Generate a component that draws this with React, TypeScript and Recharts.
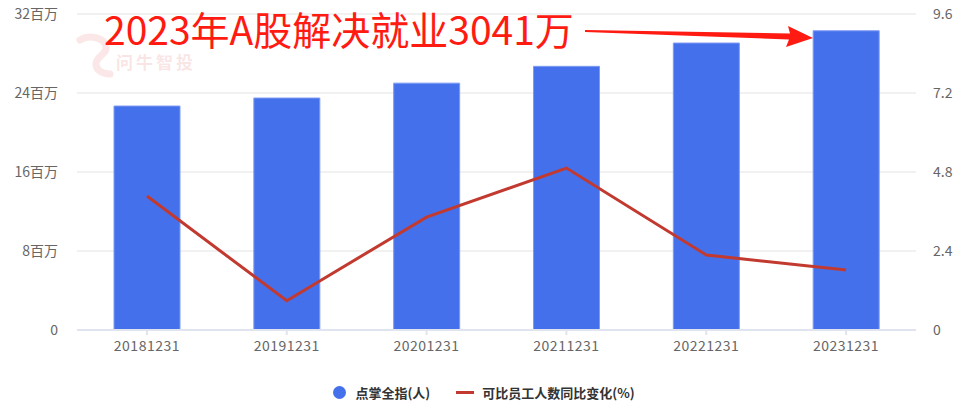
import React from 'react';
import { ComposedChart, Bar, Line, XAxis, YAxis, CartesianGrid } from 'recharts';

const categories = ['20181231', '20191231', '20201231', '20211231', '20221231', '20231231'];
const employees = [22680000, 23490000, 25000000, 26700000, 29060000, 30300000];
const changePct = [4.07, 0.89, 3.43, 4.92, 2.28, 1.82];
const leftTicks = [0, 8000000, 16000000, 24000000, 32000000];
const rightTicks = [0, 2.4, 4.8, 7.2, 9.6];
const barName = '点掌全指(人)';
const lineName = '可比员工人数同比变化(%)';
const headline = '2023年A股解决就业3041万';
const watermark = '问牛智投';

const data = categories.map((c, i) => ({ cat: c, emp: employees[i], pct: changePct[i] }));

const FONT = '"Noto Sans CJK SC", "Noto Sans", sans-serif';
const BAR = '#4570ec';
const LINE = '#c23a2f';

const fmtLeft = (v: number) => (v === 0 ? '0' : `${v / 1000000}百万`);
const fmtRight = (v: number) => (v === 0 ? '0' : v.toFixed(1));

export default function App() {
  return (
    <div style={{ position: 'absolute', left: 0, top: 0, width: 968, height: 412, background: '#fff', fontFamily: FONT }}>
      <ComposedChart width={968} height={412} data={data} margin={{ top: 14, right: 0, left: 0, bottom: 52 }}>
        <CartesianGrid vertical={false} stroke="#ececec" strokeWidth={1.5} yAxisId="left" />
        <XAxis
          dataKey="cat"
          height={30}
          stroke="#dfe4ef"
          strokeWidth={2}
          tickSize={5}
          tickMargin={6}
          tick={{ fill: '#666', fontSize: 14, fontFamily: FONT, letterSpacing: 0.5 }}
        />
        <YAxis
          yAxisId="left"
          orientation="left"
          width={77}
          domain={[0, 32000000]}
          ticks={leftTicks}
          tickFormatter={fmtLeft}
          axisLine={false}
          tickLine={false}
          tickMargin={13}
          tick={{ fill: '#666', fontSize: 14, fontFamily: FONT }}
        />
        <YAxis
          yAxisId="right"
          orientation="right"
          width={52}
          domain={[0, 9.6]}
          ticks={rightTicks}
          tickFormatter={fmtRight}
          axisLine={false}
          tickLine={false}
          tickMargin={11}
          tick={{ fill: '#666', fontSize: 14, fontFamily: FONT, textAnchor: 'start' }}
        />
        <Bar yAxisId="left" dataKey="emp" name={barName} fill={BAR} stroke="#7d9bf3" strokeWidth={1} barSize={66} isAnimationActive={false} />
        <Line yAxisId="right" dataKey="pct" name={lineName} stroke={LINE} strokeWidth={3} dot={false} activeDot={false} type="linear" isAnimationActive={false} />
      </ComposedChart>

      {/* watermark */}
      <svg style={{ position: 'absolute', left: 70, top: 30, pointerEvents: 'none' }} width={60} height={50}>
        <path d="M10 10 C 20 4, 34 8, 36 16 C 38 24, 26 26, 26 34 C 26 40, 32 44, 40 44" fill="none" stroke="rgba(232,120,120,0.18)" strokeWidth={7} strokeLinecap="round" />
      </svg>
      <div style={{ position: 'absolute', left: 116, top: 53, fontSize: 17, lineHeight: '18px', fontWeight: 700, color: 'rgba(232,120,120,0.2)', fontFamily: FONT, letterSpacing: 3 }}>
        {watermark}
      </div>

      {/* headline annotation */}
      <div style={{ position: 'absolute', left: 104, top: 10, fontSize: 39, color: '#ff1a12', fontFamily: FONT, whiteSpace: 'nowrap', lineHeight: '36px' }}>
        {headline}
      </div>
      <svg style={{ position: 'absolute', left: 0, top: 0, pointerEvents: 'none' }} width={968} height={412}>
        <polygon points="585,30 790,33.5 788,26 813,38 786,47 789,39.5 585,32" fill="#ff1a12" />
      </svg>

      {/* legend */}
      <div style={{ position: 'absolute', top: 383, left: 0, width: 968, display: 'flex', justifyContent: 'center', alignItems: 'center', fontSize: 13, color: '#333', fontWeight: 700, fontFamily: FONT }}>
        <span style={{ display: 'inline-block', width: 13, height: 13, borderRadius: '50%', background: BAR, marginRight: 9 }} />
        <span style={{ marginRight: 26 }}>{barName}</span>
        <span style={{ display: 'inline-block', width: 18, height: 3, background: LINE, marginRight: 8 }} />
        <span>{lineName}</span>
      </div>
    </div>
  );
}
